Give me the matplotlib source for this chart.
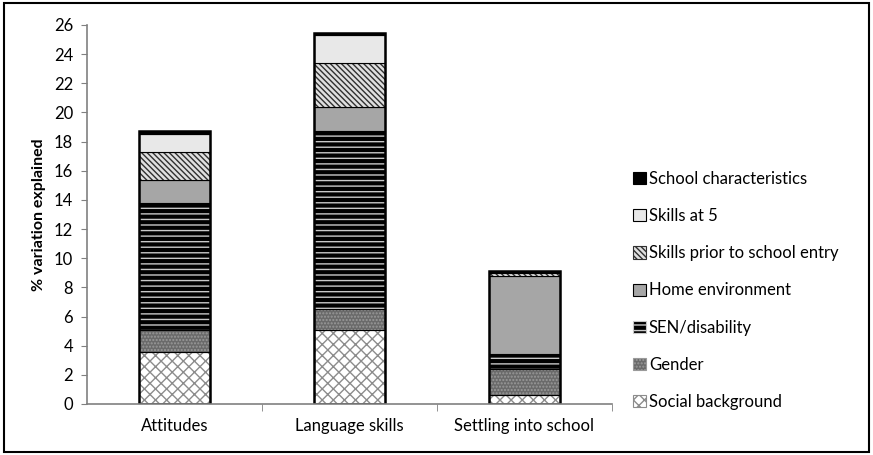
import matplotlib.pyplot as plt
from matplotlib.patches import Patch, Rectangle
import numpy as np

plt.rcParams['font.family'] = ['Lato', 'DejaVu Sans']
plt.rcParams['hatch.linewidth'] = 1.0

categories = ['Attitudes', 'Language skills', 'Settling into school']

# stacked components, bottom to top
social = [3.6, 5.1, 0.6]
gender = [1.5, 1.4, 1.8]
sen = [8.7, 12.2, 1.0]
home = [1.6, 1.7, 5.4]
prior = [1.9, 3.0, 0.2]
skills5 = [1.2, 1.9, 0.05]
school = [0.2, 0.15, 0.1]

series = [
    ('Social background', social, 'white', 'xxx', '#8c8c8c'),
    ('Gender', gender, '#6a6a6a', '.....', '#9a9a9a'),
    ('SEN/disability', sen, 'black', '---', '#c8c8c8'),
    ('Home environment', home, '#a6a6a6', None, '#a6a6a6'),
    ('Skills prior to school entry', prior, '#e0e0e0', '\\\\\\\\\\\\', '#303030'),
    ('Skills at 5', skills5, '#e8e8e8', None, '#e8e8e8'),
    ('School characteristics', school, 'black', None, 'black'),
]

fig = plt.figure(figsize=(8.73, 4.55), dpi=100)
ax = fig.add_axes([87 / 873, 51 / 455, 525 / 873, 379 / 455])

x = np.arange(len(categories))
w = 0.41
bottom = np.zeros(len(categories))
handles = []
for name, vals, fc, hatch, hc in series:
    vals = np.array(vals)
    ax.bar(x, vals, w, bottom=bottom, color=fc, hatch=hatch, edgecolor=hc, linewidth=0)
    ax.bar(x, vals, w, bottom=bottom, fill=False, edgecolor='black', linewidth=0.8)
    handles.append(Patch(facecolor=fc, hatch=hatch, edgecolor=hc if hatch else 'black', linewidth=0.8, label=name))
    bottom += vals
# outer outline of each stack
ax.bar(x, bottom, w, fill=False, edgecolor='black', linewidth=1.8)

ax.set_xlim(-0.5, 2.5)
ax.set_ylim(0, 26)
ax.set_yticks(range(0, 27, 2))
ax.tick_params(axis='y', labelsize=12, length=4, color='#808080', pad=6)
ax.set_xticks(x)
ax.set_xticklabels(categories, fontsize=12)
ax.tick_params(axis='x', length=0, pad=10)
ax.set_xticks([0.5, 1.5, 2.5], minor=True)
ax.tick_params(axis='x', which='minor', length=5, color='#808080')
for s in ['top', 'right']:
    ax.spines[s].set_visible(False)
for s in ['left', 'bottom']:
    ax.spines[s].set_color('#808080')
    ax.spines[s].set_linewidth(1.2)
ax.set_ylabel('% variation explained', fontsize=11.5, fontweight='bold', labelpad=6)

leg = fig.legend(handles[::-1], [h.get_label() for h in handles[::-1]],
                 loc='upper left', bbox_to_anchor=(618 / 873, 1 - 156 / 455),
                 frameon=False, fontsize=12, labelspacing=1.27,
                 handlelength=0.75, handleheight=0.75, handletextpad=0.2)

fig.add_artist(Rectangle((0.005, 0.006), 0.99, 0.988, transform=fig.transFigure,
                         fill=False, edgecolor='black', linewidth=1.5))

fig.savefig('out.png', dpi=100)
